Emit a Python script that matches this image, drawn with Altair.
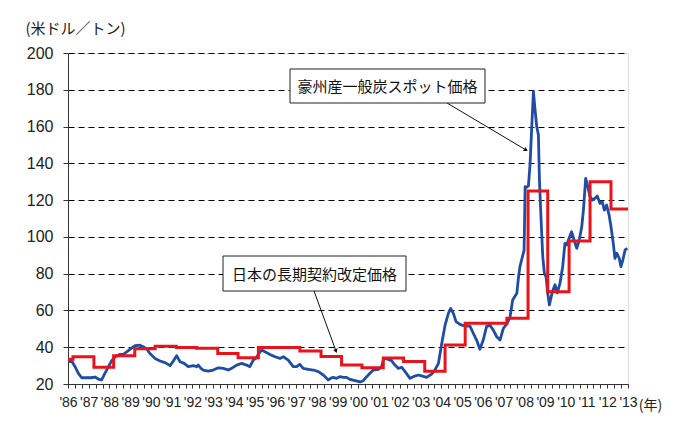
import json
import altair as alt
import pandas as pd

# ---------------- data ----------------
blue_years = [
    1986.0, 1986.2, 1986.34, 1986.5, 1986.66, 1986.9, 1987.1, 1987.3, 1987.46, 1987.62,
    1987.78, 1987.95, 1988.1, 1988.27, 1988.5, 1988.67, 1988.83, 1989.0, 1989.23, 1989.47,
    1989.63, 1989.8, 1989.95, 1990.2, 1990.44, 1990.68, 1990.92, 1991.08, 1991.24, 1991.4,
    1991.6, 1991.8, 1992.05, 1992.2, 1992.28, 1992.41, 1992.52, 1992.76, 1993.0, 1993.25,
    1993.49, 1993.73, 1993.89, 1994.13, 1994.37, 1994.61, 1994.77, 1994.93, 1995.05, 1995.2,
    1995.34, 1995.5, 1995.74, 1995.98, 1996.22, 1996.38, 1996.62, 1996.86, 1997.02, 1997.18,
    1997.34, 1997.59, 1997.83, 1998.07, 1998.31, 1998.55, 1998.71, 1998.79, 1998.95, 1999.11,
    1999.27, 1999.43, 1999.59, 1999.84, 2000.08, 2000.24, 2000.4, 2000.56, 2000.72, 2000.96,
    2001.12, 2001.23, 2001.44, 2001.6, 2001.76, 2001.93, 2002.09, 2002.25, 2002.49, 2002.65,
    2002.89, 2003.05, 2003.29, 2003.53, 2003.69, 2003.86, 2004.02, 2004.18, 2004.34, 2004.45,
    2004.58, 2004.71, 2004.9, 2005.14, 2005.38, 2005.54, 2005.7, 2005.86, 2006.02, 2006.18,
    2006.34, 2006.5, 2006.67, 2006.83, 2006.99, 2007.15, 2007.31, 2007.44, 2007.64, 2007.72,
    2007.79, 2007.91, 2007.99, 2008.04, 2008.12, 2008.2, 2008.28, 2008.36, 2008.44, 2008.52,
    2008.6, 2008.68, 2008.73, 2008.81, 2008.89, 2008.97, 2009.05, 2009.13, 2009.21, 2009.35,
    2009.48, 2009.59, 2009.72, 2009.85, 2009.96, 2010.04, 2010.16, 2010.28, 2010.4, 2010.53,
    2010.65, 2010.77, 2010.85, 2010.96, 2011.06, 2011.17, 2011.28, 2011.41, 2011.52, 2011.65,
    2011.76, 2011.86, 2011.97, 2012.09, 2012.18, 2012.29, 2012.37, 2012.46, 2012.58, 2012.66,
    2012.75, 2012.86, 2012.97,
]
blue_values = [
    32.5, 32.1, 29.4, 25.8, 23.4, 23.4, 23.4, 23.8, 22.7, 22.2,
    25.8, 29.4, 32.5, 34.8, 36.1, 36.1, 37.5, 39.0, 40.8, 41.1,
    40.3, 39.0, 36.6, 33.9, 32.5, 31.6, 30.0, 32.5, 35.4, 32.1,
    31.2, 29.4, 30.0, 29.4, 30.3, 28.5, 27.6, 27.0, 27.6, 28.8,
    28.5, 27.6, 28.5, 30.3, 31.2, 30.3, 29.4, 33.0, 33.9, 36.5,
    38.5, 37.5, 36.1, 34.8, 33.9, 34.8, 33.0, 29.4, 29.4, 30.7,
    28.5, 27.9, 27.6, 26.7, 24.9, 22.2, 23.4, 23.6, 23.1, 24.0,
    23.6, 23.6, 22.5, 21.8, 21.1, 21.8, 24.0, 25.8, 27.6, 28.0,
    29.4, 34.0, 33.4, 32.7, 30.3, 28.5, 29.1, 26.7, 23.1, 24.0,
    24.9, 24.4, 23.6, 25.4, 27.6, 31.2, 42.1, 52.0, 58.4, 61.1,
    58.4, 53.9, 52.4, 51.5, 51.5, 47.6, 43.9, 38.9, 43.9, 51.2,
    52.1, 49.4, 45.7, 43.9, 50.3, 52.5, 56.3, 65.7, 69.3, 78.0,
    83.8, 89.2, 92.8, 127.3, 127.0, 127.7, 140.0, 159.9, 179.0, 169.0,
    160.0, 155.4, 130.9, 109.2, 89.2, 80.2, 78.3, 69.3, 63.0, 70.0,
    74.0, 69.5, 74.7, 83.8, 96.5, 95.6, 99.2, 102.8, 98.3, 93.8,
    98.3, 105.5, 114.6, 131.8, 127.3, 121.9, 120.0, 121.0, 122.2, 118.2,
    119.1, 114.6, 117.3, 111.8, 105.5, 96.5, 88.3, 91.1, 88.3, 83.8,
    87.4, 92.9, 93.8,
]

red_years = [
    1986.0, 1986.24, 1987.25, 1988.2, 1989.22, 1990.2, 1991.22, 1992.2, 1993.22, 1994.2,
    1995.18, 1997.18, 1998.2, 1999.19, 2000.17, 2001.2, 2002.18, 2003.2, 2004.18, 2005.15,
    2007.16, 2008.18, 2009.13, 2010.16, 2011.17, 2012.18, 2013.0,
]
red_values = [
    33.5, 34.8, 29.1, 35.4, 39.2, 40.5, 39.8, 39.4, 36.6, 34.3,
    39.8, 38.0, 34.9, 30.3, 28.9, 34.2, 32.3, 27.0, 41.2, 53.0,
    55.7, 125.0, 70.2, 97.8, 130.0, 115.2, 115.2,
]

y_ticks = [20, 40, 60, 80, 100, 120, 140, 160, 180, 200]
year_labels = ["'86", "'87", "'88", "'89", "'90", "'91", "'92", "'93", "'94", "'95",
               "'96", "'97", "'98", "'99", "'00", "'01", "'02", "'03", "'04", "'05",
               "'06", "'07", "'08", "'09", "'10", "'11", "'12", "'13"]
spot_label = "豪州産一般炭スポット価格"
contract_label = "日本の長期契約改定価格"
y_unit = "(米ドル／トン)"
x_unit = "(年)"

# ---------------- chart ----------------
W, H = 560, 331
JP = "Noto Sans CJK JP"
NUM = "Liberation Sans, Arial"
BLUE = "#1f4da6"
RED = "#e8131b"

blue_df = pd.DataFrame({"year": blue_years, "value": blue_values})
red_df = pd.DataFrame({"year": red_years, "value": red_values})

first_year = 1986
tick_vals = [first_year + k / 3 for k in range(3 * (len(year_labels) - 1) + 1)]
label_expr = (
    "abs(datum.value - round(datum.value)) < 0.01 ? "
    + json.dumps(year_labels)
    + "[round(datum.value) - %d] : ''" % first_year
)

x_scale = alt.Scale(domain=[first_year, first_year + len(year_labels) - 1], nice=False, zero=False)
y_scale = alt.Scale(domain=[y_ticks[0], y_ticks[-1]], nice=False, zero=False)

x_axis = alt.Axis(
    values=tick_vals, labelExpr=label_expr, grid=False,
    tickSize=4, tickColor="#333", domainColor="#333",
    labelFont=NUM, labelFontSize=14, labelColor="#222", labelPadding=7,
    labelOverlap=False, labelFlush=False, labelBound=False,
    title=x_unit, titleFont=JP, titleFontSize=14, titleFontWeight="normal",
    titleColor="#222", titleX=582, titleY=21, titleAlign="center", titleBaseline="middle",
)
y_axis = alt.Axis(
    values=y_ticks, grid=True, gridDash=[6, 4], gridColor="#000", gridWidth=1,
    tickSize=5, tickColor="#333", domainColor="#333",
    labelFont=NUM, labelFontSize=16, labelColor="#222", labelPadding=10,
    title=y_unit, titleFont=JP, titleFontSize=15, titleFontWeight="normal",
    titleColor="#222", titleAngle=0, titleAlign="left", titleBaseline="middle",
    titleX=-43, titleY=-25,
)

x_enc = alt.X("year:Q", scale=x_scale, axis=x_axis)
y_enc = alt.Y("value:Q", scale=y_scale, axis=y_axis)

blue_line = alt.Chart(blue_df).mark_line(color=BLUE, strokeWidth=2.8, strokeJoin="round").encode(x=x_enc, y=y_enc)
red_line = alt.Chart(red_df).mark_line(color=RED, strokeWidth=3, interpolate="step-after").encode(x=x_enc, y=y_enc)

one = alt.Data(values=[{}])


def callout(x1, x2, y1, y2, text, lx1, ly1, lx2, ly2, ang):
    box = alt.Chart(one).mark_rect(fill="white", stroke="#222", strokeWidth=1).encode(
        x=alt.value(x1), x2=alt.value(x2), y=alt.value(y1), y2=alt.value(y2))
    label = alt.Chart(one).mark_text(font=JP, fontSize=15, color="#111", align="center", baseline="middle").encode(
        x=alt.value((x1 + x2) / 2), y=alt.value((y1 + y2) / 2 + 1), text=alt.value(text))
    leader = alt.Chart(one).mark_rule(color="#111", strokeWidth=1).encode(
        x=alt.value(lx1), y=alt.value(ly1), x2=alt.value(lx2), y2=alt.value(ly2))
    head = alt.Chart(one).mark_point(shape="triangle-up", filled=True, size=22, color="#111", angle=ang, opacity=1).encode(
        x=alt.value(lx2), y=alt.value(ly2))
    return [leader, head, box, label]


layers = [blue_line, red_line]
layers += callout(222, 417, 16, 50, spot_label, 379, 50, 458, 97, 121)
layers += callout(155, 338, 203, 238, contract_label, 246, 238, 268, 298, 160)

chart = alt.layer(*layers).properties(
    width=W, height=H,
    padding={"left": 60, "top": 45, "right": 44, "bottom": 40},
    autosize="none",
).configure_view(stroke="#555", strokeWidth=1).configure(background="white")

chart.save("out.html", embed_options={"renderer": "svg", "actions": False})
